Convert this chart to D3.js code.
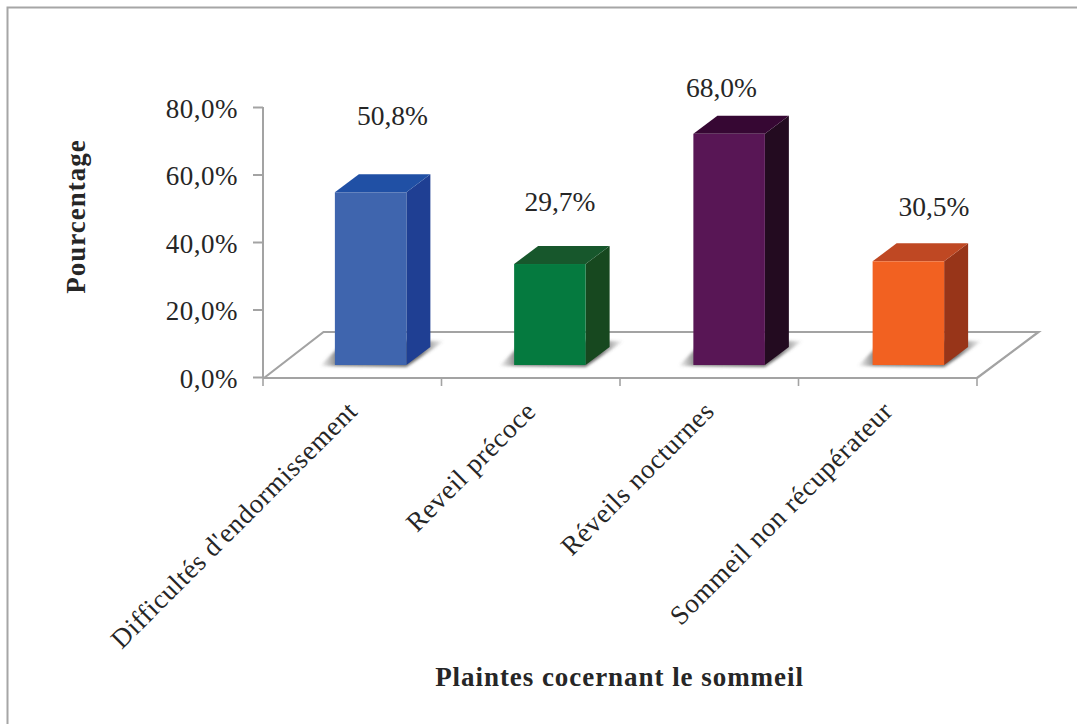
<!DOCTYPE html>
<html><head><meta charset="utf-8">
<script src="https://cdn.jsdelivr.net/npm/d3@7"></script>
<style>html,body{margin:0;padding:0;background:#fff}svg{display:block}text{font-family:"Liberation Serif",serif;fill:#262626}</style>
</head><body><svg id="c" width="1077" height="724"></svg>
<script>
const categories=["Difficultés d'endormissement","Reveil précoce","Réveils nocturnes","Sommeil non récupérateur"];
const values=[50.8,29.7,68.0,30.5];
const valueLabels=["50,8%","29,7%","68,0%","30,5%"];
const tickValues=[0,20,40,60,80];
const frontColors=["#3f65ae","#057a3f","#581655","#f26121"];
const topColors=["#2050a5","#17572c","#360733","#bf4823"];
const sideColors=["#1f3f93","#17481f","#230b20","#983519"];
const labelY=[125,211,97,216];
const labelX=[392.5,560,721.5,934];

const svg=d3.select("#c");
const defs=svg.append("defs");
defs.append("filter").attr("id","blur").attr("x","-20%").attr("y","-50%").attr("width","140%").attr("height","200%")
  .append("feGaussianBlur").attr("stdDeviation",1.5);
const sg=defs.append("linearGradient").attr("id","sh").attr("x1",0).attr("x2",1).attr("y1",0).attr("y2",0);
sg.append("stop").attr("offset",0).attr("stop-color","#666").attr("stop-opacity",0);
sg.append("stop").attr("offset",.14).attr("stop-color","#666").attr("stop-opacity",.8);
sg.append("stop").attr("offset",.8).attr("stop-color","#555").attr("stop-opacity",.85);
sg.append("stop").attr("offset",1).attr("stop-color","#555").attr("stop-opacity",0);

svg.append("path").attr("d","M7.5,724V7.5H1077").attr("fill","none").attr("stroke","#a6a6a6").attr("stroke-width",2);

const y=d3.scaleLinear().domain([0,80]).range([377,107]);
const barH=d3.scaleLinear().domain([0,80]).range([0,272]);
const x=d3.scaleBand().domain(categories).range([263,977]);
const xBar=d3.scaleBand().domain(categories).range([281,998]);
const base=365, depthX=24, depthY=18, barW=71.5;
const axisC="#a3a3a3";

// floor
svg.append("path").attr("d","M264,378L323.5,332H1038.5L977,378").attr("fill","none").attr("stroke",axisC).attr("stroke-width",2.2);

// axes
const ya=svg.append("g").attr("transform","translate(263,0)").call(d3.axisLeft(y).tickValues(tickValues).tickSize(10).tickFormat(d=>d3.format(".1f")(d).replace(".",",")+"%"));
ya.select(".domain").remove();
ya.append("line").attr("x1",0).attr("x2",0).attr("y1",107).attr("y2",378).attr("stroke",axisC).attr("stroke-width",2);
ya.selectAll(".tick line").attr("stroke",axisC).attr("stroke-width",2);
ya.selectAll(".tick text").attr("x",-25).attr("dy","0.38em").style("font-size","27px").style("letter-spacing","0.5px").style("font-family",'"Liberation Serif",serif').attr("fill","#262626");

const xa=svg.append("g").attr("transform","translate(0,378)");
xa.append("line").attr("x1",263).attr("x2",977).attr("stroke",axisC).attr("stroke-width",2.2);
xa.selectAll("line.t").data(d3.range(5)).join("line").attr("class","t")
  .attr("x1",i=>263+i*x.step()).attr("x2",i=>263+i*x.step()).attr("y1",0).attr("y2",8).attr("stroke",axisC).attr("stroke-width",1.6);

// bars
const g=svg.selectAll("g.bar").data(categories).join("g").attr("class","bar");
const L=c=>xBar(c)+xBar.bandwidth()/2-barW/2;
g.append("path").attr("filter","url(#blur)").attr("fill","url(#sh)")
  .attr("d",c=>{const l=L(c);return `M${l-15},${base+1}L${l+barW},${base+2}L${l+barW+38},${base-24}L${l+10},${base-24}Z`;});
g.append("path").attr("fill",(c,i)=>sideColors[i])
  .attr("d",(c,i)=>{const l=L(c)+barW,t=base-barH(values[i]);return `M${l},${base}V${t}l${depthX},${-depthY}V${base-depthY}Z`;});
g.append("path").attr("fill",(c,i)=>topColors[i])
  .attr("d",(c,i)=>{const l=L(c),t=base-barH(values[i]);return `M${l},${t}l${depthX},${-depthY}h${barW}l${-depthX},${depthY}Z`;});
g.append("rect").attr("x",L).attr("width",barW).attr("y",(c,i)=>base-barH(values[i])).attr("height",(c,i)=>barH(values[i])).attr("fill",(c,i)=>frontColors[i]);

// value labels
svg.selectAll("text.v").data(valueLabels).join("text").attr("class","v").attr("x",(d,i)=>labelX[i]).attr("y",(d,i)=>labelY[i]).attr("text-anchor","middle").style("font-size","27.5px").text(d=>d);

// category labels
svg.selectAll("text.c").data(categories).join("text").attr("class","c")
  .attr("transform",c=>`translate(${x(c)+x.bandwidth()/2},${406}) rotate(-45)`)
  .attr("text-anchor","end").attr("dy","0.35em").style("font-size","27px").style("letter-spacing","0.66px").text(c=>c);

// titles
svg.append("text").attr("x",619.5).attr("y",686).attr("text-anchor","middle").style("font-size","27px").style("letter-spacing","0.95px").style("font-weight","bold").text("Plaintes cocernant le sommeil");
svg.append("text").attr("transform","translate(85,216.5) rotate(-90)").attr("text-anchor","middle").style("font-size","27px").style("letter-spacing","1px").style("font-weight","bold").text("Pourcentage");
</script></body></html>
